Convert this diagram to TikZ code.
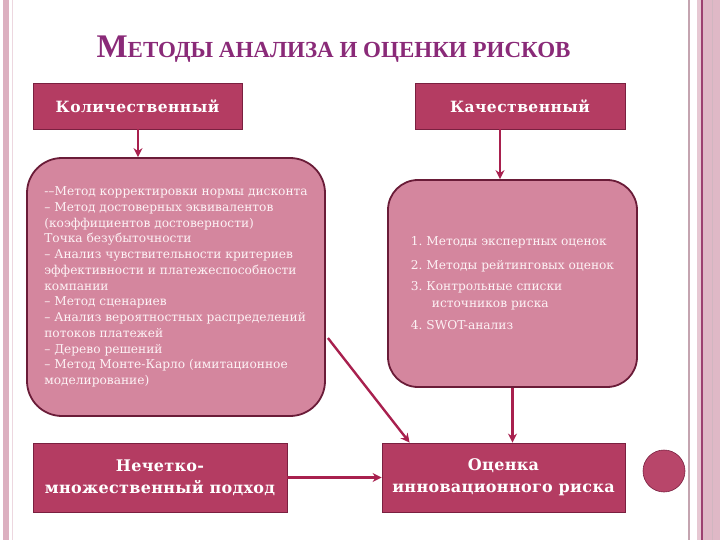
\documentclass[tikz,border=0pt]{standalone}
\usepackage{fontspec}
\setmainfont{DejaVu Serif}
\newfontfamily\titlefont{Liberation Serif}
\newfontfamily\labelfont{DejaVu Serif}[LetterSpace=3]
\newfontfamily\bottomfont{DejaVu Serif}[LetterSpace=2]
\usetikzlibrary{arrows.meta}
\definecolor{boxc}{HTML}{B43C62}
\definecolor{boxline}{HTML}{7A2040}
\definecolor{bigc}{HTML}{D4869E}
\definecolor{bigline}{HTML}{6A1C38}
\definecolor{arrowc}{HTML}{A8204E}
\definecolor{titlec}{HTML}{8A2A78}
\definecolor{textc}{HTML}{FDF2F5}
\definecolor{stripc}{HTML}{DCB0C0}
\definecolor{stripd}{HTML}{9C4070}
\definecolor{stripg}{HTML}{C4A4B0}
\begin{document}
\frenchspacing
\begin{tikzpicture}[x=1pt,y=-1pt,
  labelbox/.style={draw=boxline,line width=0.8pt,fill=boxc,text=white,inner sep=0pt,
    font=\labelfont\bfseries\fontsize{15.5}{18}\selectfont,align=center},
  bigbox/.style={draw=bigline,line width=1.8pt,fill=bigc,text=textc,inner sep=0pt,align=left},
  conn/.style={draw=arrowc,line width=2.4pt,-{Stealth[length=9pt,width=9pt]}}]
\useasboundingbox (0,0) rectangle (720,540);
% frame
\fill[stripc] (3,0) rectangle (9,540);
\draw[stripc!50,line width=1.5pt] (12.5,0) -- (12.5,540);
\draw[stripg,line width=2pt] (689,0) -- (689,540);
\fill[stripc!70] (697,0) rectangle (701,540);
\draw[stripd,line width=1.2pt] (702,0) -- (702,540);
\fill[stripc!90] (703,0) rectangle (720,540);
\draw[stripg!80,line width=1pt] (712,0) -- (712,540);
% title
\node[anchor=base,text=titlec,inner sep=0pt,font=\titlefont\bfseries] (title) at (333.5,58)
  {\fontsize{33}{33}\selectfont М\fontsize{23}{23}\selectfont ЕТОДЫ АНАЛИЗА И ОЦЕНКИ РИСКОВ};
% top labels
\node[labelbox,minimum width=209pt,minimum height=46pt] (q1) at (137.5,106) {Количественный};
\node[labelbox,minimum width=210pt,minimum height=46pt] (q2) at (520,106) {Качественный};
% big boxes
\node[bigbox,rounded corners=35pt,minimum width=298pt,minimum height=258pt,
  font=\fontsize{12.2}{15.75}\selectfont] (L) at (176,287)
  {-–Метод корректировки нормы дисконта\\
   – Метод достоверных эквивалентов\\
   (коэффициентов достоверности)\\
   Точка безубыточности\\
   – Анализ чувствительности критериев\\
   эффективности и платежеспособности\\
   компании\\
   – Метод сценариев\\
   – Анализ вероятностных распределений\\
   потоков платежей\\
   – Дерево решений\\
   – Метод Монте-Карло (имитационное\\
   моделирование)};
\node[bigbox,rounded corners=30pt,minimum width=249pt,minimum height=207pt,
  font=\fontsize{12.2}{17}\selectfont] (R) at (512.5,283.5)
  {1. Методы экспертных оценок\\[7pt]
   2. Методы рейтинговых оценок\\[4pt]
   3. Контрольные списки\\
   \hspace*{21pt}источников риска\\[5pt]
   4. SWOT-анализ};
% bottom boxes
\node[labelbox,minimum width=254pt,minimum height=69pt,
  font=\bottomfont\bfseries\fontsize{16}{22}\selectfont] (B1) at (160,477.5)
  {Нечетко-\\множественный подход};
\node[labelbox,minimum width=243pt,minimum height=69pt,
  font=\bottomfont\bfseries\fontsize{16}{22}\selectfont] (B2) at (503.5,477.5)
  {Оценка\\инновационного риска};
% circle
\node[circle,draw=boxline,line width=0.6pt,fill=boxc!95!white,minimum size=42pt,inner sep=0pt] (dot) at (664,471) {};
% connectors
\coordinate (q1b) at ([xshift=0.5pt]q1.south);
\draw[conn] (q1b) -- (q1b |- L.north);
\coordinate (q2b) at ([xshift=-20pt]q2.south);
\draw[conn] (q2b) -- (q2b |- R.north);
\draw[conn] (R.south) -- (R.south |- B2.north);
\coordinate (ds) at ([xshift=2pt,yshift=-51pt]L.east);
\coordinate (de) at ([xshift=28pt]B2.north west);
\draw[conn] (ds) -- (de);
\draw[conn] (B1.east) -- (B2.west);
\end{tikzpicture}
\end{document}
